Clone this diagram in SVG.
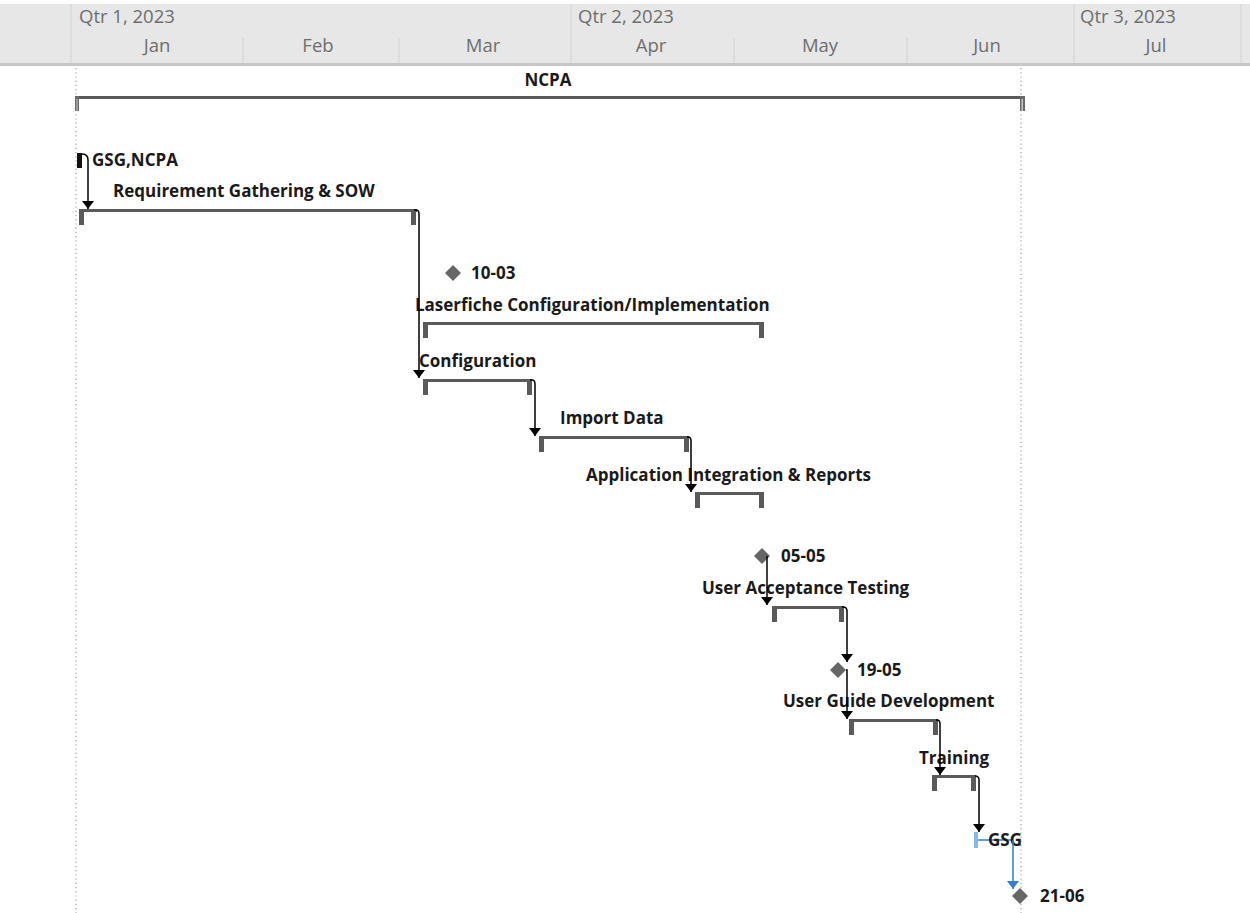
<svg xmlns="http://www.w3.org/2000/svg" width="1250" height="913" viewBox="0 0 1250 913">
<style>
.hdr{font-family:"Open Sans","Liberation Sans",sans-serif;font-size:18.5px;fill:#6e6e6e}
.lbl{font-family:"Open Sans","Liberation Sans",sans-serif;font-size:17px;font-weight:700;fill:#1a1a1a}
.bar{fill:#5a5a5a}
.ms{fill:#666666}
.conn{fill:none;stroke:#000;stroke-width:1.5}
.blue{fill:none;stroke:#2f7fd8;stroke-width:1.5}
.sep{stroke:#d2d2d2;stroke-width:1}
.dot{stroke:#a0a0a0;stroke-width:1.2;stroke-dasharray:1.2 3}
</style>
<defs>
<marker id="ah" viewBox="0 -6.5 8 13" markerWidth="8" markerHeight="13" refX="8" refY="0" orient="auto" markerUnits="userSpaceOnUse">
<path d="M0,-6 L8,0 L0,6 z" fill="#000"/>
</marker>
<marker id="ahb" viewBox="0 -6.5 8 13" markerWidth="8" markerHeight="13" refX="8" refY="0" orient="auto" markerUnits="userSpaceOnUse">
<path d="M0,-6 L8,0 L0,6 z" fill="#2f7fd8"/>
</marker>
</defs>
<rect width="1250" height="913" fill="#fff"/>
<g id="timescale">
<rect x="0" y="4" width="1250" height="60" fill="#e7e7e7"/>
<rect x="0" y="63" width="1250" height="3" fill="#c6c6c6"/>
<line class="sep" x1="71" y1="4" x2="71" y2="63"/>
<line class="sep" x1="571" y1="4" x2="571" y2="63"/>
<line class="sep" x1="1074" y1="4" x2="1074" y2="63"/>
<line class="sep" x1="1241" y1="4" x2="1241" y2="63"/>
<line class="sep" x1="243" y1="38" x2="243" y2="63"/>
<line class="sep" x1="399" y1="38" x2="399" y2="63"/>
<line class="sep" x1="734" y1="38" x2="734" y2="63"/>
<line class="sep" x1="907" y1="38" x2="907" y2="63"/>
<text class="hdr" x="79" y="23">Qtr 1, 2023</text>
<text class="hdr" x="578" y="23">Qtr 2, 2023</text>
<text class="hdr" x="1080" y="23">Qtr 3, 2023</text>
<text class="hdr" x="157" y="52" text-anchor="middle">Jan</text>
<text class="hdr" x="318" y="52" text-anchor="middle">Feb</text>
<text class="hdr" x="483" y="52" text-anchor="middle">Mar</text>
<text class="hdr" x="651" y="52" text-anchor="middle">Apr</text>
<text class="hdr" x="820" y="52" text-anchor="middle">May</text>
<text class="hdr" x="987" y="52" text-anchor="middle">Jun</text>
<text class="hdr" x="1156" y="52" text-anchor="middle">Jul</text>
</g>
<g id="gridlines">
<line class="dot" x1="76" y1="68" x2="76" y2="913"/>
<line class="dot" x1="1021" y1="68" x2="1021" y2="913"/>
</g>
<g id="ncpa">
<rect class="bar" x="75" y="96" width="950" height="3"/>
<rect x="75" y="96" width="4" height="15" fill="#6a6a6a"/>
<rect x="76.5" y="99" width="1" height="12" fill="#c8c8c8"/>
<rect x="1020" y="96" width="5" height="15" fill="#6a6a6a"/>
<rect x="1021.5" y="99" width="1.5" height="12" fill="#c8c8c8"/>
<text class="lbl" x="548" y="86" text-anchor="middle">NCPA</text>
</g>
<g id="gsg-ncpa">
<rect x="77" y="153" width="5" height="15" fill="#111"/>
<text class="lbl" x="92" y="166">GSG,NCPA</text>
</g>
<g id="req">
<rect class="bar" x="79" y="209" width="338" height="3"/>
<rect class="bar" x="79" y="209" width="5" height="16"/>
<rect class="bar" x="411" y="209" width="5" height="16"/>
<text class="lbl" x="113" y="197">Requirement Gathering &amp; SOW</text>
</g>
<g id="m1003">
<path class="ms" d="M453,265 L461,273 L453,281 L445,273 z"/>
<text class="lbl" x="471" y="279">10-03</text>
</g>
<g id="laserfiche">
<rect class="bar" x="423" y="322" width="341" height="3"/>
<rect class="bar" x="423" y="322" width="5" height="16"/>
<rect class="bar" x="759" y="322" width="5" height="16"/>
<text class="lbl" x="415" y="311">Laserfiche Configuration/Implementation</text>
</g>
<g id="configuration">
<rect class="bar" x="423" y="379" width="109" height="3"/>
<rect class="bar" x="423" y="379" width="5" height="16"/>
<rect class="bar" x="527" y="379" width="5" height="16"/>
<text class="lbl" x="419" y="367">Configuration</text>
</g>
<g id="import">
<rect class="bar" x="539" y="436" width="150" height="3"/>
<rect class="bar" x="539" y="436" width="5" height="16"/>
<rect class="bar" x="684" y="436" width="5" height="16"/>
<text class="lbl" x="560" y="424">Import Data</text>
</g>
<g id="appint">
<rect class="bar" x="695" y="492" width="69" height="3"/>
<rect class="bar" x="695" y="492" width="5" height="16"/>
<rect class="bar" x="759" y="492" width="5" height="16"/>
<text class="lbl" x="586" y="481">Application Integration &amp; Reports</text>
</g>
<g id="m0505">
<path class="ms" d="M762,548 L770,556 L762,564 L754,556 z"/>
<text class="lbl" x="781" y="562">05-05</text>
</g>
<g id="uat">
<rect class="bar" x="772" y="606" width="72" height="3"/>
<rect class="bar" x="772" y="606" width="5" height="16"/>
<rect class="bar" x="839" y="606" width="5" height="16"/>
<text class="lbl" x="702" y="594">User Acceptance Testing</text>
</g>
<g id="m1905">
<path class="ms" d="M838,662 L846,670 L838,678 L830,670 z"/>
<text class="lbl" x="857" y="676">19-05</text>
</g>
<g id="ugd">
<rect class="bar" x="849" y="719" width="89" height="3"/>
<rect class="bar" x="849" y="719" width="5" height="16"/>
<rect class="bar" x="933" y="719" width="5" height="16"/>
<text class="lbl" x="783" y="707">User Guide Development</text>
</g>
<g id="training">
<rect class="bar" x="932" y="775" width="44" height="3"/>
<rect class="bar" x="932" y="775" width="5" height="16"/>
<rect class="bar" x="971" y="775" width="5" height="16"/>
<text class="lbl" x="919" y="764">Training</text>
</g>
<g id="gsg">
<rect x="974" y="832" width="4" height="16" fill="#86b8ea"/>
<line x1="978" y1="840" x2="1013" y2="840" stroke="#2f7fd8" stroke-width="1.5"/>
<text class="lbl" x="988" y="846">GSG</text>
</g>
<g id="m2106">
<path class="ms" d="M1020,888 L1028,896 L1020,904 L1012,896 z"/>
<text class="lbl" x="1040" y="902">21-06</text>
</g>
<g id="connectors">
<path class="conn" d="M82,154 Q88,154 88,160 V209" marker-end="url(#ah)"/>
<path class="conn" d="M414,210 H416 Q419,210 419,214 V378" marker-end="url(#ah)"/>
<path class="conn" d="M530,380 H532 Q535,380 535,384 V436" marker-end="url(#ah)"/>
<path class="conn" d="M687,437 H688 Q691,437 691,441 V492" marker-end="url(#ah)"/>
<path class="conn" d="M767,556 V605" marker-end="url(#ah)"/>
<path class="conn" d="M842,607 H843 Q847,607 847,611 V662" marker-end="url(#ah)"/>
<path class="conn" d="M846,670 H847 V719" marker-end="url(#ah)"/>
<path class="conn" d="M936,720 H937 Q940,720 940,724 V775" marker-end="url(#ah)"/>
<path class="conn" d="M975,776 Q979,776 979,780 V832" marker-end="url(#ah)"/>
<path class="blue" d="M1013,840 V889" marker-end="url(#ahb)"/>
</g>
</svg>
